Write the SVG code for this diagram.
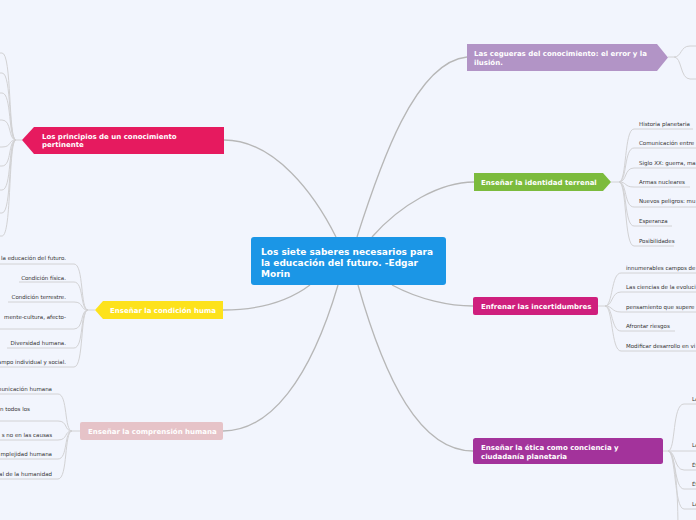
<svg xmlns="http://www.w3.org/2000/svg" width="696" height="520" viewBox="0 0 696 520">
<style>
.bg{fill:#f2f5fd}
.main{fill:none;stroke:#b7b7b7;stroke-width:1.3}
.sub{fill:none;stroke:#d2d2d4;stroke-width:1}
.nt{font-family:"DejaVu Sans",Verdana,sans-serif;font-weight:bold;fill:#ffffff}
.ct{font-family:"DejaVu Sans",Verdana,sans-serif;font-size:5.5px;fill:#333333}
.r{text-anchor:end}
</style>
<rect class="bg" x="0" y="0" width="696" height="520"/>
<g id="connectors">
  <path class="main" d="M224,140 C275,140 315,195 336,237"/>
  <path class="main" d="M357,237 C380,165 415,62 467,57"/>
  <path class="main" d="M372,237 C400,205 440,182 474,182"/>
  <path class="main" d="M392,285 C420,300 450,306 473,306"/>
  <path class="main" d="M358,285 C385,380 420,451 473,451"/>
  <path class="main" d="M338,285 C310,380 270,431 223,431"/>
  <path class="main" d="M310,285 C290,300 260,310 223,310"/>
  <!-- principles children -->
  <path class="sub" d="M22,140 H16"/>
  <path class="sub" d="M16,140 C8,140 12,53 2,53 H-5"/>
  <path class="sub" d="M16,140 C8,140 12,73 2,73 H-5"/>
  <path class="sub" d="M16,140 C8,140 12,93 2,93 H-5"/>
  <path class="sub" d="M16,140 C8,140 12,120 2,120 H-5"/>
  <path class="sub" d="M16,140 C8,140 12,147 2,147 H-5"/>
  <path class="sub" d="M16,140 C8,140 12,166 2,166 H-5"/>
  <path class="sub" d="M16,140 C8,140 12,190 2,190 H-5"/>
  <path class="sub" d="M16,140 C8,140 12,213 2,213 H-5"/>
  <path class="sub" d="M16,140 C8,140 12,236 2,236 H-5"/>
  <!-- condicion children -->
  <path class="sub" d="M95,310 H88"/>
  <path class="sub" d="M88,310 C80,310 84,264 74,264 H-5"/>
  <path class="sub" d="M88,310 C80,310 84,282 74,282 H19"/>
  <path class="sub" d="M88,310 C80,310 84,302 74,302 H8"/>
  <path class="sub" d="M88,310 C80,310 84,329 74,329 H-5"/>
  <path class="sub" d="M88,310 C80,310 84,348 74,348 H7"/>
  <path class="sub" d="M88,310 C80,310 84,367 74,367 H-5"/>
  <!-- comprension children -->
  <path class="sub" d="M80,431 H72"/>
  <path class="sub" d="M72,431 C64,431 68,394 58,394 H-5"/>
  <path class="sub" d="M72,431 C64,431 68,421 58,421 H-5"/>
  <path class="sub" d="M72,431 C64,431 68,440 58,440 H-5"/>
  <path class="sub" d="M72,431 C64,431 68,459 58,459 H-5"/>
  <path class="sub" d="M72,431 C64,431 68,479 58,479 H-5"/>
  <!-- cegueras children -->
  <path class="sub" d="M668,57 H674"/>
  <path class="sub" d="M674,57 C682,57 680,46 690,46 H700"/>
  <path class="sub" d="M674,57 C682,57 680,79 690,79 H700"/>
  <!-- identidad children -->
  <path class="sub" d="M611,182 H619"/>
  <path class="sub" d="M619,182 C627,182 624,129 634,129 H693"/>
  <path class="sub" d="M619,182 C627,182 624,148 634,148 H700"/>
  <path class="sub" d="M619,182 C627,182 624,168 634,168 H700"/>
  <path class="sub" d="M619,182 C627,182 624,187 634,187 H690"/>
  <path class="sub" d="M619,182 C627,182 624,207 634,207 H700"/>
  <path class="sub" d="M619,182 C627,182 624,226 634,226 H672"/>
  <path class="sub" d="M619,182 C627,182 624,246 634,246 H674"/>
  <!-- incertidumbres children -->
  <path class="sub" d="M598,306 H605"/>
  <path class="sub" d="M605,306 C613,306 611,273 621,273 H700"/>
  <path class="sub" d="M605,306 C613,306 611,292 621,292 H700"/>
  <path class="sub" d="M605,306 C613,306 611,312 621,312 H700"/>
  <path class="sub" d="M605,306 C613,306 611,331 621,331 H675"/>
  <path class="sub" d="M605,306 C613,306 611,351 621,351 H700"/>
  <!-- etica children -->
  <path class="sub" d="M663,451 H668"/>
  <path class="sub" d="M668,451 C676,451 672,404 684,404 H700"/>
  <path class="sub" d="M668,451 H700"/>
  <path class="sub" d="M668,451 C676,451 674,470 684,470 H700"/>
  <path class="sub" d="M668,451 C676,451 674,489 684,489 H700"/>
  <path class="sub" d="M668,451 C676,451 674,509 684,509 H700"/>
  <path class="sub" d="M668,451 C676,451 678,500 678,530"/>
</g>
<g id="center">
  <rect x="251" y="237" width="195" height="48" rx="3" fill="#1b96e6"/>
  <text class="nt" font-size="9" x="261" y="254.5">Los siete saberes necesarios para</text>
  <text class="nt" font-size="9" x="261" y="265.5">la educación del futuro. -Edgar</text>
  <text class="nt" font-size="9" x="261" y="276.5">Morin</text>
</g>
<g id="principios">
  <polygon points="22,140 34,127 224,127 224,154 34,154" fill="#e61a5f"/>
  <text class="nt" font-size="7" x="42" y="138.5">Los principios de un conocimiento</text>
  <text class="nt" font-size="7" x="42" y="147">pertinente</text>
</g>
<g id="condicion">
  <polygon points="95,310 103,301 223,301 223,319 103,319" fill="#fde21c"/>
  <text class="nt" font-size="7" x="110" y="312.5">Enseñar la condición huma</text>
  <text class="ct r" x="66" y="260">la educación del futuro.</text>
  <text class="ct r" x="66" y="280">Condición física.</text>
  <text class="ct r" x="66" y="299">Condición terrestre.</text>
  <text class="ct r" x="66" y="319">mente-cultura, afecto-</text>
  <text class="ct r" x="66" y="345">Diversidad humana.</text>
  <text class="ct r" x="66" y="364">ampo individual y social.</text>
</g>
<g id="comprension">
  <rect x="80" y="422" width="143" height="18" rx="2" fill="#e6c3c8"/>
  <text class="nt" font-size="7" x="88" y="433.5">Enseñar la comprensión humana</text>
  <text class="ct r" x="52" y="391">municación humana</text>
  <text class="ct" x="0" y="411">n todos los</text>
  <text class="ct r" x="52" y="437">s no en las causas</text>
  <text class="ct r" x="52" y="456">mplejidad humana</text>
  <text class="ct r" x="52" y="476">al de la humanidad</text>
</g>
<g id="cegueras">
  <polygon points="467,44 657,44 668,57.5 657,71 467,71" fill="#b294c6"/>
  <text class="nt" font-size="7" x="474" y="56">Las cegueras del conocimiento: el error y la</text>
  <text class="nt" font-size="7" x="474" y="64.5">ilusión.</text>
</g>
<g id="identidad">
  <polygon points="474,173 603,173 611,182 603,191 474,191" fill="#7cbb3d"/>
  <text class="nt" font-size="7" x="481" y="184.5">Enseñar la identidad terrenal</text>
  <text class="ct" x="639" y="126">Historia planetaria</text>
  <text class="ct" x="639" y="145">Comunicación entre</text>
  <text class="ct" x="639" y="165">Siglo XX: guerra, ma</text>
  <text class="ct" x="639" y="184">Armas nucleares</text>
  <text class="ct" x="639" y="203">Nuevos peligros: mu</text>
  <text class="ct" x="639" y="223">Esperanza</text>
  <text class="ct" x="639" y="243">Posibilidades</text>
</g>
<g id="incertidumbres">
  <rect x="473" y="297" width="125" height="18" rx="2" fill="#cf1f7d"/>
  <text class="nt" font-size="7" x="481" y="308.5">Enfrenar las incertidumbres</text>
  <text class="ct" x="626" y="270">innumerables campos de</text>
  <text class="ct" x="626" y="289">Las ciencias de la evoluci</text>
  <text class="ct" x="626" y="309">pensamiento que supere</text>
  <text class="ct" x="626" y="328">Afrontar riesgos</text>
  <text class="ct" x="626" y="348">Modificar desarrollo en vi</text>
</g>
<g id="etica">
  <rect x="473" y="438" width="190" height="26" rx="2.5" fill="#a3339b"/>
  <text class="nt" font-size="7" x="481" y="450">Enseñar la ética como conciencia y</text>
  <text class="nt" font-size="7" x="481" y="458.5">ciudadanía planetaria</text>
  <text class="ct" x="692" y="401">La</text>
  <text class="ct" x="692" y="447">La</text>
  <text class="ct" x="692" y="467">Ét</text>
  <text class="ct" x="692" y="486">Ét</text>
  <text class="ct" x="692" y="506">La</text>
</g>
</svg>
